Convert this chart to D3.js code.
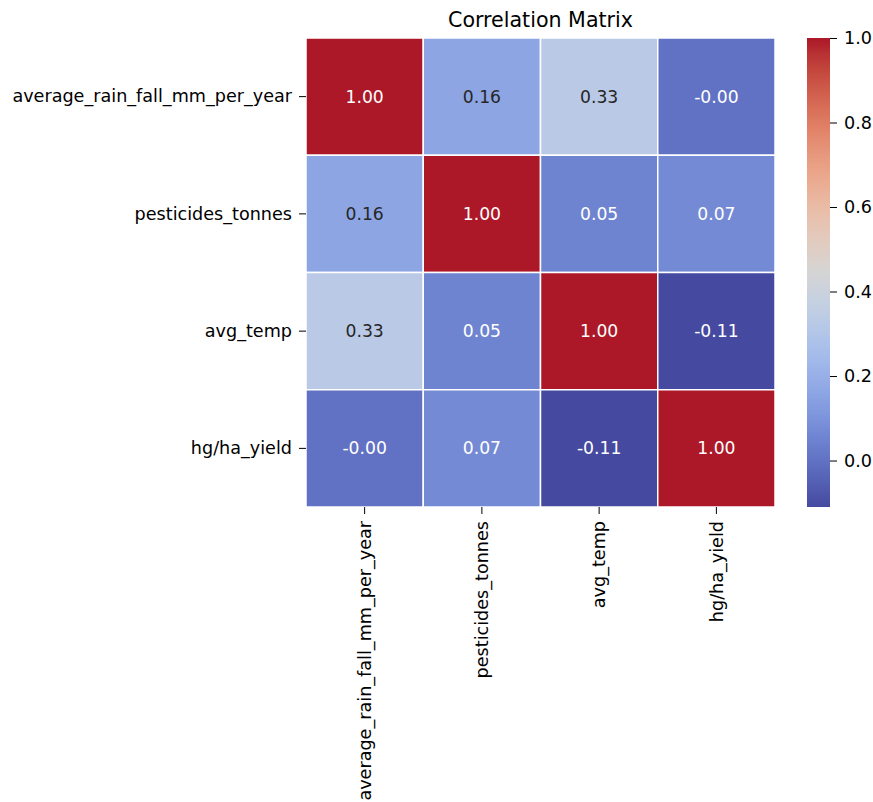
<!DOCTYPE html>
<html>
<head>
<meta charset="utf-8">
<script src="https://cdn.jsdelivr.net/npm/d3@7"></script>
<style>
  html, body { margin: 0; padding: 0; background: #fff; }
  svg { display: block; }
  text { font-family: "DejaVu Sans", sans-serif; fill: #000; }
</style>
</head>
<body>
<svg id="chart" width="873" height="802"></svg>
<script>
// Variables of the correlation matrix
const variables = [
  "average_rain_fall_mm_per_year",
  "pesticides_tonnes",
  "avg_temp",
  "hg/ha_yield"
];

// Correlation values, one row per variable
const rowRain       = [1.00, 0.16, 0.33, -0.00];
const rowPesticides = [0.16, 1.00, 0.05, 0.07];
const rowTemp       = [0.33, 0.05, 1.00, -0.11];
const rowYield      = [-0.00, 0.07, -0.11, 1.00];
const matrix = [rowRain, rowPesticides, rowTemp, rowYield];

// Colorbar ticks
const colorbarTicks = [0.0, 0.2, 0.4, 0.6, 0.8, 1.0];

const title = "Correlation Matrix";

// matplotlib "coolwarm" colormap control points
const coolwarmStops = [
  [0.2298057, 0.298717966, 0.753683153],
  [0.26623388, 0.353094838, 0.801466763],
  [0.30386891, 0.406535296, 0.84495867],
  [0.342804478, 0.458757618, 0.883725899],
  [0.38301334, 0.50941904, 0.917387822],
  [0.424369608, 0.558148092, 0.945619588],
  [0.46666708, 0.604562568, 0.968154911],
  [0.509635204, 0.648280772, 0.98478814],
  [0.552953156, 0.688929332, 0.995375608],
  [0.596262162, 0.726149107, 0.999836203],
  [0.639176211, 0.759599947, 0.998151185],
  [0.681291281, 0.788964712, 0.990363227],
  [0.722193294, 0.813952739, 0.976574709],
  [0.761464949, 0.834302879, 0.956945269],
  [0.798691636, 0.849786142, 0.931688648],
  [0.833466556, 0.860207984, 0.901068838],
  [0.865395197, 0.86541021, 0.865395561],
  [0.897787179, 0.848937047, 0.820880546],
  [0.924127593, 0.827384882, 0.774508472],
  [0.944468518, 0.800927443, 0.726736146],
  [0.958852946, 0.769767752, 0.678007945],
  [0.96732803, 0.734132809, 0.628751763],
  [0.969954137, 0.694266682, 0.579375448],
  [0.966811177, 0.650421156, 0.530263762],
  [0.958003065, 0.602842431, 0.481775914],
  [0.943660866, 0.551750968, 0.434243684],
  [0.923944917, 0.49730856, 0.387970225],
  [0.89904617, 0.439559467, 0.343229596],
  [0.869186849, 0.378313092, 0.300267182],
  [0.834620542, 0.312874446, 0.259301199],
  [0.795631745, 0.24128379, 0.220525627],
  [0.752534934, 0.157246067, 0.184115123],
  [0.705673158, 0.01555616, 0.150232812]
];
const coolwarmRaw = d3.piecewise(d3.interpolateRgb,
  coolwarmStops.map(c => d3.rgb(c[0] * 255, c[1] * 255, c[2] * 255)));

// Softer rendering of the colormap: blues lose more chroma than reds
function muted(t) {
  const c = d3.hcl(coolwarmRaw(t));
  c.c *= 0.75 + 0.17 * t;
  c.l *= 0.95 + 0.03 * t;
  return c.formatHex();
}

const vmin = d3.min(matrix.flat());
const vmax = d3.max(matrix.flat());
const colorRaw = d3.scaleSequential(coolwarmRaw).domain([vmin, vmax]);
const color = d3.scaleSequential(muted).domain([vmin, vmax]);

const svg = d3.select("#chart");

// Layout
const hm = { left: 306, top: 38, size: 469 };
const cb = { left: 807, width: 23 };
const fontSize = 17.6;
const tickLen = 7;
const tickPad = 7;

const x = d3.scaleBand().domain(variables).range([hm.left, hm.left + hm.size]);
const y = d3.scaleBand().domain(variables).range([hm.top, hm.top + hm.size]);

// Cells
const cells = [];
matrix.forEach((row, i) => row.forEach((v, j) => cells.push({ r: variables[i], c: variables[j], v })));

svg.append("g").selectAll("rect")
  .data(cells)
  .join("rect")
  .attr("x", d => x(d.c))
  .attr("y", d => y(d.r))
  .attr("width", x.bandwidth())
  .attr("height", y.bandwidth())
  .attr("fill", d => color(d.v))
  .attr("stroke", "#fff")
  .attr("stroke-width", 1.5);

// Annotation text color chosen by cell luminance (light cells get dark text)
function relLum(c) {
  const rgb = d3.rgb(c);
  const f = u => { u /= 255; return u <= 0.03928 ? u / 12.92 : Math.pow((u + 0.055) / 1.055, 2.4); };
  return 0.2126 * f(rgb.r) + 0.7152 * f(rgb.g) + 0.0722 * f(rgb.b);
}

const fmt2 = d3.format(".2f");
const label = v => (Object.is(v, -0) ? "-0.00" : fmt2(v)).replace("\u2212", "-");

svg.append("g").selectAll("text")
  .data(cells)
  .join("text")
  .attr("x", d => x(d.c) + x.bandwidth() / 2)
  .attr("y", d => y(d.r) + y.bandwidth() / 2)
  .attr("text-anchor", "middle")
  .attr("dominant-baseline", "central")
  .attr("font-size", 17.2)
  .style("fill", d => relLum(colorRaw(d.v)) > 0.408 ? "#262626" : "#fff")
  .text(d => label(d.v));

// Axes
const yAxis = d3.axisLeft(y).tickSize(tickLen).tickPadding(tickPad);
const gy = svg.append("g").attr("transform", `translate(${hm.left},0)`).call(yAxis);
gy.select(".domain").remove();
gy.selectAll("text").attr("font-size", fontSize).style("font-family", "DejaVu Sans").style("fill", "#000");
gy.selectAll("line").attr("stroke", "#000").attr("stroke-width", 1);

const xAxis = d3.axisBottom(x).tickSize(tickLen).tickPadding(tickPad);
const gx = svg.append("g").attr("transform", `translate(0,${hm.top + hm.size})`).call(xAxis);
gx.select(".domain").remove();
gx.selectAll("line").attr("stroke", "#000").attr("stroke-width", 1);
gx.selectAll("text")
  .attr("font-size", fontSize)
  .style("font-family", "DejaVu Sans")
  .style("fill", "#000")
  .attr("transform", "rotate(-90)")
  .attr("text-anchor", "end")
  .attr("dy", "0.35em")
  .attr("x", -(tickLen + tickPad))
  .attr("y", 0);

// Title
svg.append("text")
  .attr("x", hm.left + hm.size / 2)
  .attr("y", 27)
  .attr("text-anchor", "middle")
  .attr("font-size", 20.6)
  .text(title);

// Colorbar
const cbScale = d3.scaleLinear().domain([vmin, vmax]).range([hm.top + hm.size, hm.top]);
const defs = svg.append("defs");
const grad = defs.append("linearGradient")
  .attr("id", "cbgrad").attr("x1", 0).attr("y1", 1).attr("x2", 0).attr("y2", 0);
d3.range(0, 1.0001, 1 / 64).forEach(t => {
  grad.append("stop").attr("offset", t).attr("stop-color", muted(t));
});
svg.append("rect")
  .attr("x", cb.left)
  .attr("y", hm.top)
  .attr("width", cb.width)
  .attr("height", hm.size)
  .attr("fill", "url(#cbgrad)");

const cbAxis = d3.axisRight(cbScale)
  .tickValues(colorbarTicks)
  .tickFormat(d3.format(".1f"))
  .tickSize(tickLen)
  .tickPadding(tickPad);
const gc = svg.append("g").attr("transform", `translate(${cb.left + cb.width},0)`).call(cbAxis);
gc.select(".domain").remove();
gc.selectAll("line").attr("stroke", "#000").attr("stroke-width", 1);
gc.selectAll("text").attr("font-size", fontSize).style("font-family", "DejaVu Sans").style("fill", "#000");
</script>
</body>
</html>
